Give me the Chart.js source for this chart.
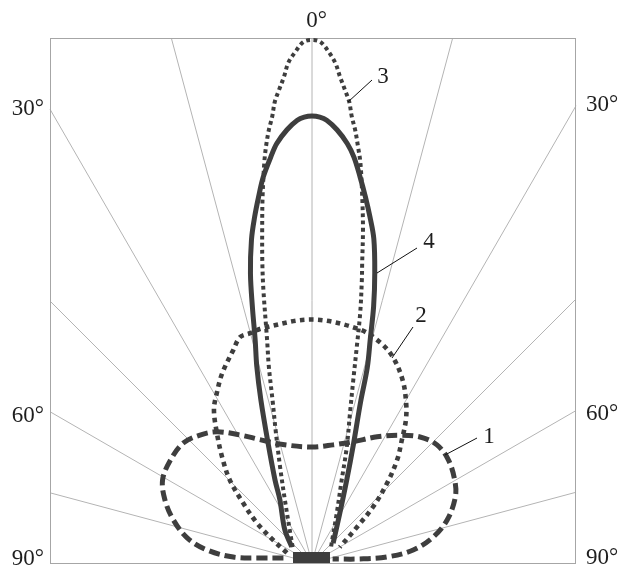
<!DOCTYPE html>
<html>
<head>
<meta charset="utf-8">
<script src="https://cdn.jsdelivr.net/npm/chart.js@4.4.1/dist/chart.umd.min.js"></script>
<style>
html,body{margin:0;padding:0;background:#fff;}
canvas{display:block;}
</style>
</head>
<body>
<canvas id="c" width="622" height="568"></canvas>
<script>
// ---- Data (polar: angle in degrees from the vertical axis, radius in plot units) ----
const gridAngles = [-75, -60, -45, -30, -15, 0, 15, 30, 45, 60, 75];
const tickAngles = [0, 30, 60, 90];
const tickLabels = ['0°', '30°', '60°', '90°'];
const seriesNames = ['1', '2', '3', '4'];

const angles1 = [-80, -84.5, -85.7, -82.9, -78.7, -72.8, -66.8, -60.9, -54, -47.1, -41.2, -35.9, -29.4, -22.9, -13.8, 0, 10.1, 18.7, 27.3, 34.5, 40.6, 46.6, 52.9, 59.9, 65.2, 72.3, 77.9, 82.7, 85.4, 85.2, 79];
const radii1  = [29, 52, 79, 106, 127, 145, 160, 171, 175, 176, 170, 162, 147, 134, 122, 116, 120, 128, 142, 155, 166, 172, 171, 165, 158, 142, 124, 102, 75, 48, 21];

const angles2 = [-68, -59.5, -54, -49, -44.7, -40.3, -36.2, -32.6, -29.2, -25.3, -20.3, -17.7, -15.1, -11.7, 0, 11.4, 17.1, 21.5, 26.4, 30.4, 33.3, 36.2, 39.5, 43.2, 47.4, 51.3, 60.3];
const radii2  = [27, 45, 68, 91, 117, 139, 161, 182, 195, 210, 227, 237, 238, 240, 243.5, 238.5, 231, 221, 204, 186, 171, 152, 134, 110, 83, 58, 32];

const angles3 = [-50.6, -36, -23.2, -18.4, -15.5, -13.6, -12.4, -11.4, -10.1, -9.4, -8.5, -7.7, -6.8, -6.3, -5.7, -5.1, -4.6, -4.0, -3.3, -2.7, -1.9, -0.95, 0,
                 0.95, 1.9, 2.7, 3.3, 4.0, 4.6, 5.1, 5.7, 6.3, 6.9, 7.8, 8.7, 9.5, 10, 10.9, 11.7, 12.7, 14.2, 16.7, 19.7, 26.3, 44.6, 52];
const radii3  = [25, 37, 69, 101, 135, 168, 201, 227, 277, 304, 337, 369, 403, 419, 435, 448, 463, 474, 487, 501, 511, 521, 523,
                 521, 511, 500, 487, 474, 463, 448, 435, 419, 403, 370, 337, 304, 287, 255, 221, 188, 155, 121, 88, 56, 28, 24];

const angles4 = [-51.3, -39.3, -26.9, -24, -20.1, -17.4, -15.7, -14.3, -13.1, -12.0, -10.6, -9.4, -8.3, -7.2, -5.8, -4.8, -3.3, -1.9, -1.0, 0,
                 1.0, 1.9, 3.3, 4.8, 5.9, 7.1, 8.3, 9.5, 10.8, 12.2, 13.5, 14.6, 15.8, 16.8, 19.3, 22.7, 29.2, 46.8];
const radii4  = [26, 43, 71, 91, 128, 171, 204, 230, 263, 296, 329, 351, 370, 389, 408, 421, 434, 443, 446, 447,
                 446, 443, 434, 421, 408, 389, 370, 351, 330, 297, 264, 231, 203, 168, 125, 90, 57, 29];

// LED package outline (plot units)
const packageX = [-19, 18];
const packageTop = 11;

// ---- Helpers ----
const rad = d => d * Math.PI / 180;
function polarToXY(angles, radii) {
  return angles.map((a, i) => ({ x: radii[i] * Math.sin(rad(a)), y: radii[i] * Math.cos(rad(a)) }));
}

const INK = '#3e3e3e';
const curveStyles = [
  { borderWidth: 5,   borderDash: [11, 5] },
  { borderWidth: 4.6, borderDash: [4.6, 4.4] },
  { borderWidth: 4,   borderDash: [3.8, 3.4] },
  { borderWidth: 5,   borderDash: [] }
];
const seriesData = [
  polarToXY(angles1, radii1),
  polarToXY(angles2, radii2),
  polarToXY(angles3, radii3),
  polarToXY(angles4, radii4)
];

// label anchors for series numbers (plot units) and leader lines
const seriesLabelAt = [[177, 120], [109, 241], [71, 480], [117, 315]];
const leaderLines = [[165, 125, 133, 108], [101, 236, 80, 205], [60, 483, 36, 461], [105, 315, 65, 290]];
const tickBaselineShift = [0, 6, 10, 2];

const datasets = [
  {
    label: 'package',
    data: packageX.map(x => ({ x: x, y: packageTop })),
    showLine: true, pointRadius: 0, borderWidth: 0,
    backgroundColor: INK, borderColor: INK, fill: 'origin'
  }
].concat(seriesData.map((d, i) => ({
  label: seriesNames[i],
  data: d,
  showLine: true,
  pointRadius: 0,
  borderColor: INK,
  borderWidth: curveStyles[i].borderWidth,
  borderDash: curveStyles[i].borderDash,
  borderCapStyle: 'butt',
  borderJoinStyle: 'round',
  tension: 0.35,
  fill: false
})));

const gridPlugin = {
  id: 'polarGrid',
  beforeDatasetsDraw(chart) {
    const { ctx, chartArea, scales } = chart;
    const xs = scales.x, ys = scales.y;
    ctx.save();
    ctx.strokeStyle = '#b4b4b4';
    ctx.lineWidth = 1;
    const ox = xs.getPixelForValue(0), oy = ys.getPixelForValue(0);
    gridAngles.forEach(a => {
      const s = Math.sin(rad(a)), c = Math.cos(rad(a));
      const edgeX = s > 0 ? xs.max : xs.min;
      const t1 = Math.abs(s) > 1e-9 ? edgeX / s : Infinity;
      const t2 = ys.max / c;
      const t = Math.min(t1, t2);
      ctx.beginPath();
      ctx.moveTo(ox, oy);
      ctx.lineTo(xs.getPixelForValue(t * s), ys.getPixelForValue(t * c));
      ctx.stroke();
    });
    ctx.strokeStyle = '#a6a6a6';
    ctx.strokeRect(Math.round(chartArea.left) + 0.5, Math.round(chartArea.top) + 0.5,
                   Math.round(chartArea.right - chartArea.left) - 1, Math.round(chartArea.bottom - chartArea.top));
    ctx.restore();
  }
};

const labelPlugin = {
  id: 'polarLabels',
  afterDatasetsDraw(chart) {
    const { ctx, chartArea, scales } = chart;
    const xs = scales.x, ys = scales.y;
    ctx.save();
    ctx.fillStyle = '#1e1e1e';
    ctx.font = '23px "Liberation Serif", "Times New Roman", serif';
    ctx.textBaseline = 'alphabetic';
    tickAngles.forEach((a, i) => {
      const txt = tickLabels[i];
      if (a === 0) {
        const w0 = ctx.measureText('0').width;
        ctx.textAlign = 'left';
        ctx.fillText(txt, xs.getPixelForValue(0) - w0 / 2, chartArea.top - 11);
      } else {
        const tanA = Math.tan(rad(a));
        const yL = a >= 90 ? 0 : Math.abs(xs.min) / tanA;
        const yR = a >= 90 ? 0 : xs.max / tanA;
        ctx.textAlign = 'right';
        ctx.fillText(txt, chartArea.left - 6, ys.getPixelForValue(yL) + tickBaselineShift[i]);
        ctx.textAlign = 'left';
        ctx.fillText(txt, chartArea.right + 10, ys.getPixelForValue(yR) + tickBaselineShift[i] - 1);
      }
    });
    ctx.strokeStyle = '#111';
    ctx.lineWidth = 1;
    leaderLines.forEach(l => {
      ctx.beginPath();
      ctx.moveTo(xs.getPixelForValue(l[0]), ys.getPixelForValue(l[1]));
      ctx.lineTo(xs.getPixelForValue(l[2]), ys.getPixelForValue(l[3]));
      ctx.stroke();
    });
    ctx.textAlign = 'center';
    seriesNames.forEach((n, i) => {
      ctx.fillText(n, xs.getPixelForValue(seriesLabelAt[i][0]), ys.getPixelForValue(seriesLabelAt[i][1]));
    });
    ctx.restore();
  }
};

new Chart(document.getElementById('c'), {
  type: 'scatter',
  data: { datasets: datasets },
  options: {
    responsive: false,
    animation: false,
    devicePixelRatio: 1,
    events: [],
    layout: { padding: { left: 50, right: 46, top: 38, bottom: 5 } },
    scales: {
      x: { type: 'linear', min: -262, max: 264, display: false },
      y: { type: 'linear', min: 0, max: 525, display: false }
    },
    plugins: { legend: { display: false }, tooltip: { enabled: false } }
  },
  plugins: [gridPlugin, labelPlugin]
});
</script>
</body>
</html>
